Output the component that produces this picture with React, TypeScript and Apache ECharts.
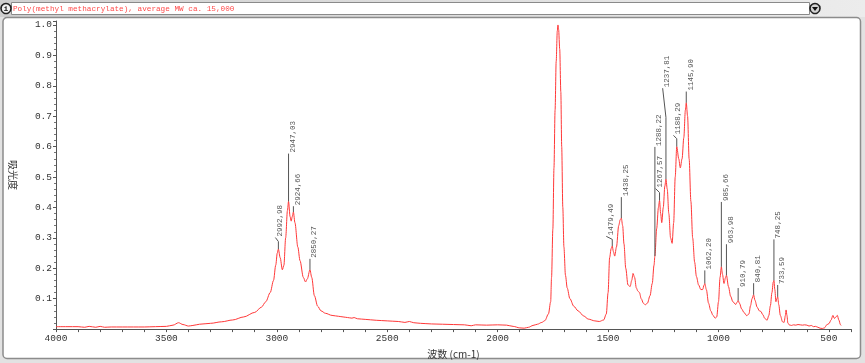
import React, { useEffect, useRef } from "react";
import * as echarts from "echarts";

const titleText = "Poly(methyl methacrylate), average MW ca. 15,000";
const xAxisName = "波数 (cm-1)";
const yAxisName = "吸光度";

// spectrum: wavenumber (cm-1) and absorbance
const wavenumbers = [
  4000, 3950, 3900, 3870, 3850, 3820, 3800, 3780, 3750, 3700,
  3650, 3600, 3550, 3500, 3470, 3445, 3425, 3400, 3380, 3350,
  3300, 3250, 3200, 3150, 3100, 3070, 3050, 3030, 3015, 3005,
  2998, 2993, 2985, 2975, 2968, 2960, 2952, 2947, 2940, 2935,
  2930, 2925, 2918, 2905, 2895, 2880, 2870, 2862, 2850, 2842,
  2830, 2815, 2800, 2780, 2750, 2720, 2700, 2680, 2660, 2650,
  2635, 2600, 2550, 2500, 2450, 2420, 2400, 2380, 2350, 2300,
  2250, 2200, 2150, 2120, 2100, 2050, 2000, 1960, 1930, 1900,
  1880, 1860, 1840, 1820, 1800, 1786, 1770, 1760, 1756, 1750,
  1745, 1740, 1735, 1730, 1727, 1724, 1719, 1714, 1710, 1705,
  1700, 1693, 1685, 1673, 1655, 1636, 1610, 1590, 1560, 1540,
  1520, 1508, 1500, 1493, 1486, 1481, 1476, 1470, 1462, 1452,
  1445, 1440, 1434, 1428, 1420, 1410, 1400, 1393, 1387, 1380,
  1372, 1365, 1358, 1350, 1340, 1332, 1322, 1310, 1300, 1292,
  1288, 1280, 1272, 1267, 1262, 1257, 1250, 1243, 1238, 1232,
  1225, 1217, 1210, 1203, 1196, 1189, 1180, 1173, 1165, 1157,
  1150, 1146, 1140, 1133, 1125, 1117, 1108, 1100, 1090, 1080,
  1072, 1065, 1062, 1055, 1045, 1035, 1025, 1015, 1008, 1000,
  993, 987, 982, 975, 968, 964, 955, 945, 935, 922,
  916, 911, 905, 895, 884, 872, 862, 855, 848, 841,
  835, 825, 815, 808, 800, 790, 780, 772, 765, 758,
  752, 749, 745, 740, 736, 732, 727, 720, 710, 703,
  697, 694, 690, 686, 680, 670, 660, 650, 640, 630,
  620, 610, 600, 590, 580, 570, 560, 550, 540, 530,
  520, 510, 500, 490, 482, 475, 468, 462, 455, 448,
  445,
];
const absorbance = [
  0.008, 0.008, 0.008, 0.006, 0.009, 0.006, 0.009, 0.006, 0.007, 0.007,
  0.007, 0.007, 0.008, 0.009, 0.013, 0.021, 0.015, 0.010, 0.012, 0.016,
  0.019, 0.024, 0.030, 0.040, 0.055, 0.072, 0.090, 0.120, 0.160, 0.210,
  0.250, 0.263, 0.235, 0.195, 0.210, 0.300, 0.390, 0.420, 0.370, 0.355,
  0.370, 0.385, 0.350, 0.270, 0.225, 0.170, 0.155, 0.165, 0.195, 0.170,
  0.110, 0.075, 0.060, 0.052, 0.045, 0.042, 0.040, 0.038, 0.036, 0.038,
  0.034, 0.032, 0.029, 0.027, 0.025, 0.022, 0.025, 0.021, 0.019, 0.017,
  0.016, 0.015, 0.014, 0.011, 0.014, 0.013, 0.014, 0.013, 0.009, 0.004,
  0.003, 0.006, 0.012, 0.016, 0.022, 0.028, 0.050, 0.090, 0.170, 0.330,
  0.530, 0.720, 0.880, 0.980, 1.000, 0.985, 0.920, 0.780, 0.600, 0.400,
  0.270, 0.177, 0.135, 0.100, 0.075, 0.060, 0.043, 0.033, 0.027, 0.025,
  0.030, 0.050, 0.120, 0.235, 0.265, 0.273, 0.255, 0.240, 0.270, 0.340,
  0.360, 0.365, 0.340, 0.280, 0.200, 0.145, 0.140, 0.160, 0.183, 0.170,
  0.135, 0.125, 0.120, 0.100, 0.085, 0.080, 0.085, 0.110, 0.150, 0.210,
  0.240, 0.330, 0.400, 0.423, 0.380, 0.350, 0.400, 0.470, 0.493, 0.460,
  0.380, 0.300, 0.282, 0.350, 0.500, 0.600, 0.560, 0.530, 0.560, 0.630,
  0.720, 0.744, 0.700, 0.560, 0.420, 0.300, 0.220, 0.173, 0.145, 0.130,
  0.130, 0.145, 0.150, 0.130, 0.085, 0.060, 0.045, 0.036, 0.040, 0.090,
  0.170, 0.205, 0.180, 0.150, 0.170, 0.177, 0.140, 0.108, 0.090, 0.081,
  0.088, 0.094, 0.085, 0.066, 0.054, 0.044, 0.050, 0.077, 0.100, 0.113,
  0.095, 0.072, 0.060, 0.058, 0.048, 0.035, 0.029, 0.045, 0.077, 0.120,
  0.155, 0.160, 0.130, 0.090, 0.100, 0.106, 0.080, 0.045, 0.024, 0.022,
  0.045, 0.063, 0.045, 0.020, 0.014, 0.012, 0.014, 0.013, 0.015, 0.014,
  0.013, 0.014, 0.013, 0.010, 0.012, 0.008, 0.009, 0.006, 0.003, 0.002,
  0.004, 0.014, 0.018, 0.030, 0.045, 0.035, 0.040, 0.045, 0.030, 0.015,
  0.012,
];

// peak annotations
const peakLabels = [
  "2992,98", "2947,03", "2924,66", "2850,27", "1479,49", "1438,25",
  "1288,22", "1267,57", "1237,81", "1188,29", "1145,90", "1062,20",
  "985,66", "963,98", "910,79", "840,81", "748,25", "733,59",
];
const peakWn = [2993, 2947, 2925, 2850, 1481, 1440, 1288, 1267, 1238, 1189, 1146, 1062, 987, 964, 911, 841, 749, 732];
const peakAbs = [0.263, 0.42, 0.385, 0.195, 0.273, 0.365, 0.24, 0.423, 0.493, 0.6, 0.744, 0.15, 0.205, 0.177, 0.094, 0.113, 0.16, 0.106];
// absorbance where the vertical leader ends, and where the label starts
const leaderAbs = [0.288, 0.577, 0.404, 0.231, 0.295, 0.434, 0.599, 0.449, 0.696, 0.626, 0.781, 0.193, 0.418, 0.279, 0.135, 0.151, 0.295, 0.145];
const labelAbs = [0.301, 0.577, 0.404, 0.231, 0.305, 0.434, 0.599, 0.462, 0.792, 0.637, 0.781, 0.193, 0.418, 0.279, 0.135, 0.151, 0.295, 0.145];
const labelShift = [-3, 0, 0, 0, -6, 0, 0, -4, -3.3, -3.3, 0, 0, 0, 0, 0, 0, 0, 0];

const MONO = '"Liberation Mono", "DejaVu Sans Mono", monospace';
const CJK = '"Noto Sans CJK SC", "Noto Sans", sans-serif';

export default function App() {
  const ref = useRef<HTMLDivElement>(null);

  useEffect(() => {
    if (!ref.current) return;
    const chart = echarts.init(ref.current, null, { renderer: "svg" });

    const lineData = wavenumbers.map((w, i) => [w, absorbance[i]]);
    const peakData = peakWn.map((w, i) => [w, peakAbs[i], leaderAbs[i], labelAbs[i], labelShift[i], i]);

    const option: any = {
      animation: false,
      graphic: [
        { type: "rect", z: -10, silent: true, shape: { x: 0, y: 0, width: 865, height: 363 }, style: { fill: "#e2e2e2" } },
        {
          type: "rect", z: -9, silent: true, shape: { x: 0, y: 0, width: 865, height: 17 },
          style: { fill: new echarts.graphic.LinearGradient(0, 0, 1, 0, [{ offset: 0, color: "#cfcfcf" }, { offset: 1, color: "#ececec" }]) },
        },
        { type: "rect", z: -8, silent: true, shape: { x: 11.5, y: 2.5, width: 798, height: 12 }, style: { fill: "#ffffff", stroke: "#8a8a8a", lineWidth: 1 } },
        { type: "text", z: -7, silent: true, x: 13, y: 9, style: { text: titleText, fill: "#ff4a4a", font: `7.7px ${MONO}`, verticalAlign: "middle" } },
        { type: "circle", z: -7, silent: true, shape: { cx: 6, cy: 8.5, r: 5 }, style: { fill: "#f2f2f2", stroke: "#222", lineWidth: 1.6 } },
        { type: "text", z: -6, silent: true, x: 6, y: 8.8, style: { text: "i", fill: "#222", font: `bold 8px ${MONO}`, align: "center", verticalAlign: "middle" } },
        { type: "circle", z: -7, silent: true, shape: { cx: 815, cy: 8.5, r: 5 }, style: { fill: "#d4d4d4", stroke: "#222", lineWidth: 1.6 } },
        { type: "polygon", z: -6, silent: true, shape: { points: [[812, 7], [818, 7], [815, 11]] }, style: { fill: "#111" } },
        { type: "rect", z: -5, silent: true, shape: { x: 3, y: 17.5, width: 857.5, height: 341, r: 4 }, style: { fill: "#ffffff", stroke: "#8c8c8c", lineWidth: 1.5 } },
      ],
      grid: { left: 52, right: 14, top: 21, bottom: 26 },
      xAxis: {
        type: "value",
        min: 400,
        max: 4000,
        interval: 100,
        inverse: true,
        name: xAxisName,
        nameLocation: "middle",
        nameGap: 17,
        nameTextStyle: { fontFamily: CJK, fontSize: 10, color: "#333" },
        axisLine: { show: true, lineStyle: { color: "#555", width: 1 } },
        axisTick: { show: true, length: 3, lineStyle: { color: "#555" } },
        axisLabel: {
          formatter: (v: number) => (v % 500 === 0 ? String(v) : ""),
          margin: 4,
          fontSize: 9.5,
          fontFamily: MONO,
          color: "#333",
        },
        splitLine: { show: false },
      },
      yAxis: {
        type: "value",
        min: 0,
        max: 1.013,
        interval: 0.1,
        name: yAxisName,
        nameLocation: "middle",
        nameRotate: -90,
        nameGap: 38,
        nameTextStyle: { fontFamily: CJK, fontSize: 10, color: "#333" },
        axisLine: { show: true, lineStyle: { color: "#555", width: 1 } },
        axisTick: { show: true, length: 3, lineStyle: { color: "#555" } },
        minorTick: { show: true, splitNumber: 5, length: 2, lineStyle: { color: "#777" } },
        axisLabel: {
          formatter: (v: number) => {
            const r = Math.round(v * 10);
            if (r === 0 || Math.abs(v * 10 - r) > 1e-6) return "";
            return (r / 10).toFixed(1);
          },
          showMaxLabel: false,
          margin: 4,
          fontSize: 9.5,
          fontFamily: MONO,
          color: "#333",
        },
        splitLine: { show: false },
      },
      series: [
        {
          type: "line",
          data: lineData,
          showSymbol: false,
          smooth: 0.3,
          smoothMonotone: "x",
          lineStyle: { color: "#ff3838", width: 1 },
          z: 2,
          silent: true,
        },
        {
          type: "custom",
          data: peakData,
          encode: { x: 0, y: 1 },
          clip: false,
          silent: true,
          z: 3,
          renderItem: (params: any, api: any) => {
            const w = api.value(0);
            const p0 = api.coord([w, api.value(1)]);
            const p1 = api.coord([w, api.value(2)]);
            const pl = api.coord([w, api.value(3)]);
            const p2 = [p1[0] + api.value(4), pl[1]];
            const idx = api.value(5);
            return {
              type: "group",
              children: [
                {
                  type: "polyline",
                  shape: { points: [p0, p1, p2] },
                  style: { stroke: "#555", lineWidth: 1, fill: null },
                },
                {
                  type: "text",
                  x: p2[0] + 0.5,
                  y: p2[1] - 1,
                  rotation: Math.PI / 2,
                  style: {
                    text: peakLabels[idx],
                    fill: "#555",
                    font: `7.5px ${MONO}`,
                    align: "left",
                    verticalAlign: "top",
                  },
                },
              ],
            };
          },
        },
      ],
    };

    chart.setOption(option);
    return () => chart.dispose();
  }, []);

  return (
    <div
      ref={ref}
      style={{ position: "fixed", left: 0, top: 0, width: 865, height: 363 }}
    />
  );
}
